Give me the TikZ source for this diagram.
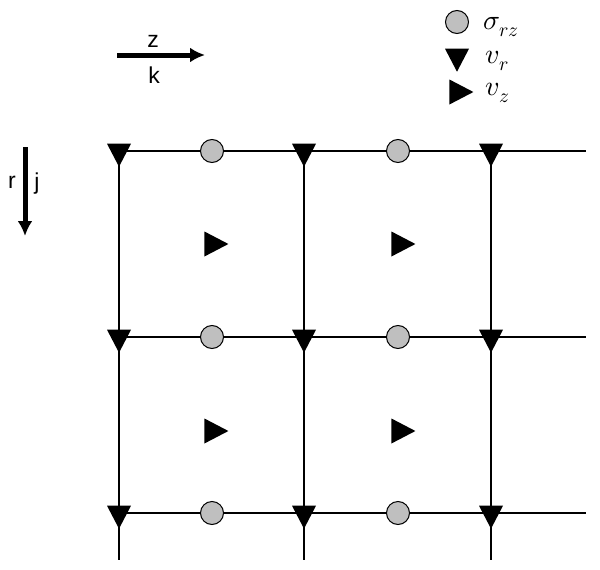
\documentclass[tikz,border=0pt]{standalone}
\usepackage{fontspec}
\usepackage{unicode-math}
\setsansfont{Liberation Sans}
\setmathfont{Latin Modern Math}
\usetikzlibrary{arrows.meta,shapes.geometric}

\begin{document}
\begin{tikzpicture}[
    x=1pt, y=-1pt,
    every node/.style={font=\sffamily\fontsize{23}{25}\selectfont},
    grid line/.style={draw, line width=1.5pt},
    axis arrow/.style={draw, line width=5pt, -{Latex[length=15pt,width=15pt]}},
    vr mark/.style={fill=black, isosceles triangle, isosceles triangle stretches,
        minimum width=24pt, minimum height=23pt, inner sep=0pt, shape border rotate=-90},
    vz mark/.style={fill=black, isosceles triangle, isosceles triangle stretches,
        minimum width=25pt, minimum height=24pt, inner sep=0pt},
    srz mark/.style={circle, draw, line width=1pt, fill=gray!50, minimum size=23pt, inner sep=0pt},
    legend text/.style={anchor=west, font=\fontsize{28}{30}\selectfont},
]
\useasboundingbox (0,0) rectangle (600,570);

% Axes
\coordinate (z-start) at (117,55);
\coordinate (z-end) at (205,55);
\draw[axis arrow] (z-start) -- (z-end);
\node (lab-z) at (153,41) {z};
\node (lab-k) at (154,75) {k};

\coordinate (r-start) at (25,147);
\coordinate (r-end) at (25,236);
\draw[axis arrow] (r-start) -- (r-end);
\node (lab-r) at (12,182) {r};
\node (lab-j) at (37,184) {j};

% Grille
\foreach \c/\x in {1/119,2/304,3/491}
    \foreach \r/\y in {1/151,2/337,3/513}
        \coordinate (g-\c-\r) at (\x,\y);

\foreach \r/\y in {1/151,2/337,3/513} {
    \coordinate (e-\r) at (586,\y);
    \draw[grid line] (g-1-\r) -- (e-\r);
}
\foreach \c/\x in {1/119,2/304,3/491} {
    \coordinate (b-\c) at (\x,560);
    \draw[grid line] (g-\c-1) -- (b-\c);
}

% Points de la grille
\foreach \c in {1,2,3}
    \foreach \r in {1,2,3}
        \node[vr mark] (vr-\c-\r) at (g-\c-\r) {};

\foreach \r/\y in {1/151,2/337,3/513} {
    \node[srz mark] (s-1-\r) at (212,\y) {};
    \node[srz mark] (s-2-\r) at (398,\y) {};
}

\foreach \r/\y in {1/244,2/431} {
    \node[vz mark] (vz-1-\r) at (212,\y) {};
    \node[vz mark] (vz-2-\r) at (399,\y) {};
}

% Légende
\node[srz mark] (leg-s) at (457,22) {};
\node[vr mark] (leg-vr) at (457,56) {};
\node[vz mark] (leg-vz) at (457,92) {};
\node[legend text] (leg-s-text) at (480,27) {$\sigma_{rz}$};
\node[legend text] (leg-vr-text) at (482,61) {$v_r$};
\node[legend text] (leg-vz-text) at (482,93) {$v_z$};

\end{tikzpicture}
\end{document}
